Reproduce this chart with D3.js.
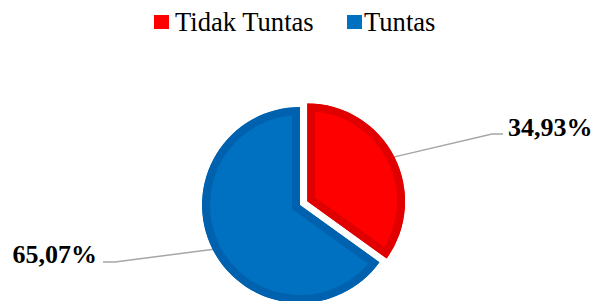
<!DOCTYPE html>
<html>
<head>
<meta charset="utf-8">
<script src="https://cdn.jsdelivr.net/npm/d3@7"></script>
<style>
  html, body { margin: 0; padding: 0; background: #fff; }
  svg { display: block; }
</style>
</head>
<body>
<svg id="chart" width="592" height="301"></svg>
<script>
const categories = ["Tidak Tuntas", "Tuntas"];
const values = [34.93, 65.07];
const labels = ["34,93%", "65,07%"];
const fills = ["#FF0000", "#0070C0"];
const borders = ["#E00000", "#0062AE"];

const W = 592, H = 301;
const cx = 300, cy = 205, R = 98;
const explode = [8, 0];
const border = 8;

const svg = d3.select("#chart");
const defs = svg.append("defs");

// Legend
const legend = svg.append("g").attr("font-family", "'Liberation Serif', 'Times New Roman', serif").attr("font-size", 26.6);
const legendItems = [
  { x: 154, tx: 175 },
  { x: 347, tx: 364 }
];
categories.forEach((c, i) => {
  legend.append("rect").attr("x", legendItems[i].x).attr("y", 15).attr("width", 15).attr("height", 14).attr("fill", fills[i]);
  legend.append("text").attr("x", legendItems[i].tx).attr("y", 31).attr("fill", "#000").text(c);
});

const pie = d3.pie().sort(null).value(d => d)(values);
const arc = d3.arc().innerRadius(0).outerRadius(R);

// Leader lines (drawn first so slices sit on top)
const labelPos = [
  { elbow: [492, 134], end: [503, 134], tx: 508, ty: 136, anchor: "start" },
  { elbow: [115, 262], end: [103, 262], tx: 97, ty: 263, anchor: "end" }
];

pie.forEach((p, i) => {
  const mid = (p.startAngle + p.endAngle) / 2;
  const ox = cx + Math.sin(mid) * explode[i];
  const oy = cy - Math.cos(mid) * explode[i];
  const sx = ox + Math.sin(mid) * (R - 1);
  const sy = oy - Math.cos(mid) * (R - 1);
  const lp = labelPos[i];
  svg.append("polyline")
    .attr("points", [[sx, sy], lp.elbow, lp.end].map(d => d.join(",")).join(" "))
    .attr("fill", "none").attr("stroke", "#A6A6A6").attr("stroke-width", 1.5);
});

pie.forEach((p, i) => {
  const mid = (p.startAngle + p.endAngle) / 2;
  const ox = cx + Math.sin(mid) * explode[i];
  const oy = cy - Math.cos(mid) * explode[i];
  const d = arc(p);
  defs.append("clipPath").attr("id", "clip" + i)
    .append("path").attr("d", d);
  svg.append("g").attr("transform", `translate(${ox},${oy})`)
    .append("path")
    .attr("d", d)
    .attr("fill", fills[i])
    .attr("stroke", borders[i])
    .attr("stroke-width", border * 2)
    .attr("stroke-linejoin", "miter")
    .attr("clip-path", `url(#clip${i})`);
});

// Labels
labels.forEach((l, i) => {
  const lp = labelPos[i];
  svg.append("text")
    .attr("x", lp.tx).attr("y", lp.ty)
    .attr("text-anchor", lp.anchor)
    .attr("font-family", "'Liberation Serif', 'Times New Roman', serif")
    .attr("font-weight", "bold")
    .attr("font-size", 26)
    .attr("fill", "#000")
    .text(l);
});
</script>
</body>
</html>
